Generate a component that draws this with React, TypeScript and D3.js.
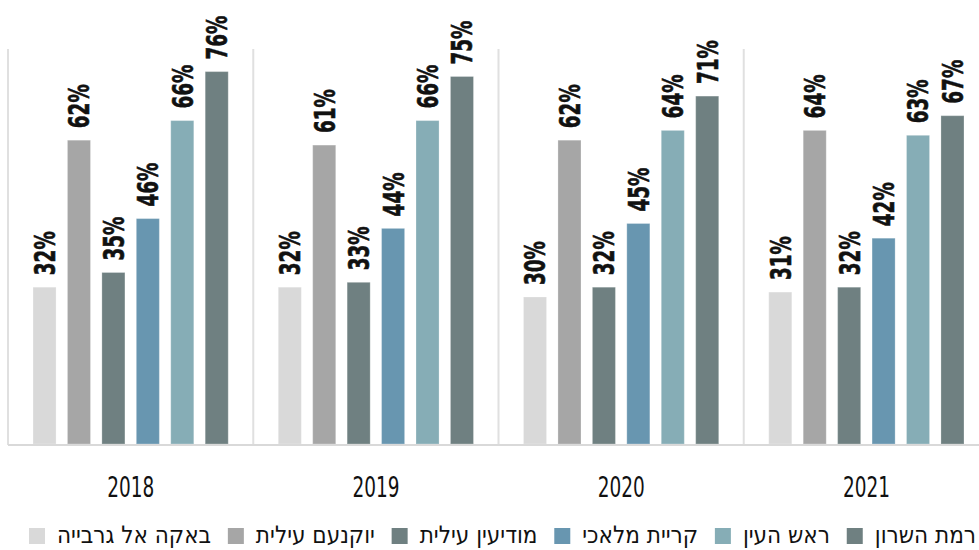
import React, { useRef, useEffect } from 'react';
import * as d3 from 'd3';

// years on the x axis
const years = ['2018', '2019', '2020', '2021'];

// towns (series), in bar order left to right
const towns = ['באקה אל גרבייה', 'יוקנעם עילית', 'מודיעין עילית', 'קריית מלאכי', 'ראש העין', 'רמת השרון'];
const townColors = ['#d9d9d9', '#a6a6a6', '#6f8081', '#6896b0', '#86adb6', '#6f8081'];

// percent values per town, one entry per year
const baqa = [32, 32, 30, 31];
const yokneam = [62, 61, 62, 64];
const modiin = [35, 33, 32, 32];
const kiryatMalachi = [46, 44, 45, 42];
const rosh = [66, 66, 64, 63];
const ramat = [76, 75, 71, 67];

const series = [baqa, yokneam, modiin, kiryatMalachi, rosh, ramat];

const W = 979;
const H = 550;

const App: React.FC = () => {
  const svgRef = useRef<SVGSVGElement>(null);

  useEffect(() => {
    if (!svgRef.current) return;
    const svg = d3.select(svgRef.current);
    svg.selectAll('*').remove();

    const x0 = d3.scaleBand<string>().domain(years).range([8, 989]).padding(0);
    const bw = x0.bandwidth();
    const x1 = d3.scaleBand<string>().domain(towns).range([bw * 0.102, bw * 0.898]).paddingInner(0.331).paddingOuter(0);
    const y = d3.scaleLinear().domain([0, 90]).range([444, 3]);

    // group separators
    svg.append('g')
      .selectAll('line')
      .data(years)
      .join('line')
      .attr('x1', d => x0(d)!)
      .attr('x2', d => x0(d)!)
      .attr('y1', 49)
      .attr('y2', 445)
      .attr('stroke', '#e0e0e0')
      .attr('stroke-width', 2);

    const rows = years.flatMap((yr, i) => towns.map((t, j) => ({ yr, t, j, v: series[j][i] })));

    svg.append('g')
      .selectAll('rect')
      .data(rows)
      .join('rect')
      .attr('x', d => x0(d.yr)! + x1(d.t)!)
      .attr('y', d => y(d.v))
      .attr('width', x1.bandwidth())
      .attr('height', d => y(0) - y(d.v))
      .attr('fill', d => townColors[d.j])
      .attr('stroke', 'rgba(255,255,255,0.25)')
      .attr('stroke-width', 1);

    // axis line
    svg.append('line')
      .attr('x1', 8).attr('x2', W)
      .attr('y1', 445).attr('y2', 445)
      .attr('stroke', '#d9d9d9')
      .attr('stroke-width', 2);

    // value labels
    svg.append('g')
      .selectAll('text')
      .data(rows)
      .join('text')
      .attr('transform', d => `translate(${x0(d.yr)! + x1(d.t)! + x1.bandwidth() / 2},${y(d.v) - 12}) rotate(-90)`)
      .attr('dy', '0.36em')
      .attr('text-anchor', 'start')
      .attr('font-family', '"Liberation Sans Narrow", "DejaVu Sans Condensed", sans-serif')
      .attr('font-weight', 'bold')
      .attr('font-size', 29)
      .attr('textLength', 44)
      .attr('lengthAdjust', 'spacingAndGlyphs')
      .attr('stroke', '#111')
      .attr('stroke-width', 0.6)
      .attr('fill', '#111')
      .text(d => `${d.v}%`);

    // year labels
    svg.append('g')
      .selectAll('text')
      .data(years)
      .join('text')
      .attr('x', d => x0(d)! + bw / 2)
      .attr('y', 497)
      .attr('text-anchor', 'middle')
      .attr('font-family', '"Liberation Sans Narrow", "DejaVu Sans Condensed", sans-serif')
      .attr('font-size', 28)
      .attr('textLength', 47)
      .attr('lengthAdjust', 'spacingAndGlyphs')
      .attr('fill', '#111')
      .text(d => d);

    // legend, laid out right to left
    const legend = svg.append('g');
    const items = towns.map((t, j) => ({ t, j })).reverse();
    const texts = items.map(it =>
      legend.append('text')
        .attr('y', 543)
        .attr('text-anchor', 'end')
        .attr('font-family', '"Liberation Sans Narrow", "DejaVu Sans Condensed", sans-serif')
        .attr('font-size', 24)
        .attr('fill', '#111')
        .text(it.t)
    );
    const widths = texts.map(tx => (tx.node() as SVGTextElement).getComputedTextLength());
    const sw = 16;
    const inner = 12;
    const right = 976;
    const left = 29;
    const used = d3.sum(widths) + items.length * (sw + inner);
    const gap = (right - left - used) / (items.length - 1);
    let cx = right;
    items.forEach((it, k) => {
      texts[k].attr('x', cx);
      const sx = cx - widths[k] - inner - sw;
      legend.append('rect')
        .attr('x', sx)
        .attr('y', 528)
        .attr('width', sw)
        .attr('height', sw)
        .attr('fill', townColors[it.j]);
      cx = sx - gap;
    });
  }, []);

  return (
    <svg
      ref={svgRef}
      width={W}
      height={H}
      style={{ position: 'absolute', left: 0, top: 0, background: '#fff' }}
    />
  );
};

export default App;
